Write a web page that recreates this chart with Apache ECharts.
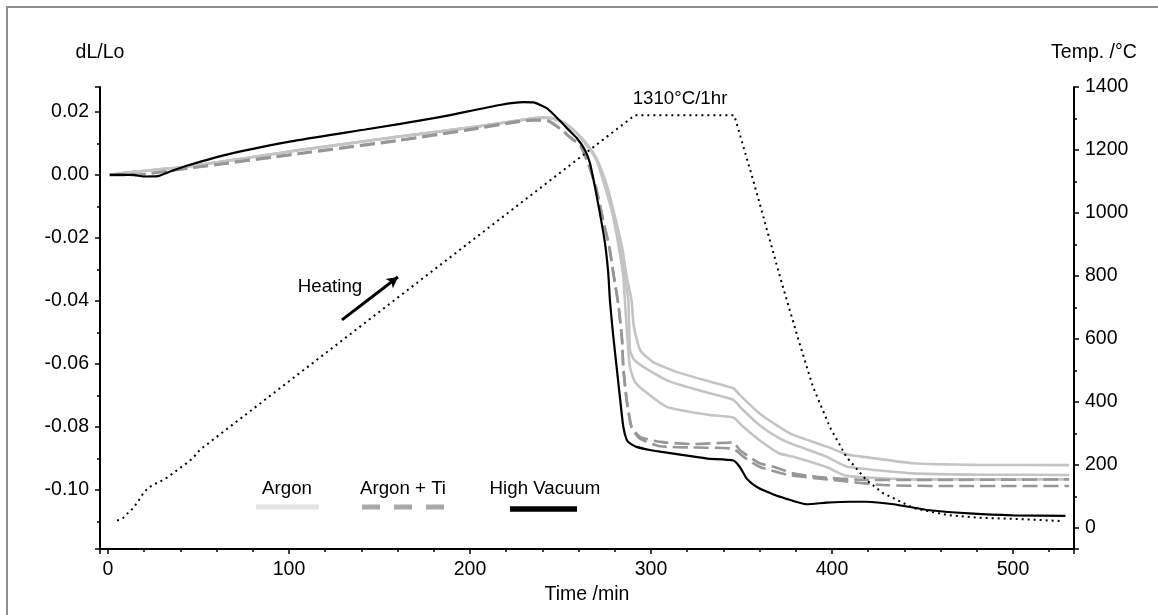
<!DOCTYPE html>
<html>
<head>
<meta charset="utf-8">
<script src="https://cdn.jsdelivr.net/npm/echarts@6/dist/echarts.min.js"></script>
<style>
html,body{margin:0;padding:0;background:#fff;}
#chart{width:1158px;height:615px;}
</style>
</head>
<body>
<div id="chart"></div>
<script>
// ---------------- data ----------------
// High Vacuum  (time /min, dL/Lo)
const hvTime = [1, 14, 19.5, 27.6, 34, 43.5, 69, 106, 143, 180, 216.6, 229.5, 235, 242.4, 249.7, 255, 259, 263.5, 266.3, 269, 271.8, 274.6, 276.4, 277.3, 279, 281, 283, 284.7, 286.6, 288.4, 292, 299.4, 305, 318, 331, 345.5, 349, 352.8, 356, 360, 364, 369.5, 375, 380, 386, 397, 410, 419, 434, 454, 478, 500, 529];
const hvVal  = [0, 0, -0.0005, -0.0004, 0.001, 0.0029, 0.0069, 0.0111, 0.0145, 0.018, 0.0222, 0.0231, 0.023, 0.0212, 0.0172, 0.014, 0.0117, 0.0079, 0.0037, -0.0037, -0.0122, -0.0217, -0.0312, -0.0397, -0.0503, -0.0609, -0.0714, -0.0799, -0.0841, -0.0852, -0.0863, -0.0873, -0.0878, -0.0889, -0.09, -0.0906, -0.0926, -0.0963, -0.098, -0.0995, -0.1005, -0.1018, -0.1028, -0.1037, -0.1045, -0.104, -0.1037, -0.1037, -0.1045, -0.1064, -0.1075, -0.108, -0.1082];

// Argon, three runs
const arATime = [1, 14, 43.5, 106, 161, 200, 235, 242, 248, 254, 260, 265, 270, 276, 280, 284, 286.5, 289.3, 290.5, 294, 301, 314, 332.6, 345.5, 349, 360, 371, 378.6, 397, 408, 415.5, 445, 480, 531];
const arAVal  = [0, 0.001, 0.0026, 0.0079, 0.0122, 0.015, 0.018, 0.0182, 0.0176, 0.0158, 0.0128, 0.0095, 0.0052, -0.004, -0.013, -0.0228, -0.032, -0.04, -0.048, -0.0556, -0.0593, -0.0625, -0.0656, -0.0677, -0.0698, -0.0757, -0.08, -0.0825, -0.0862, -0.0886, -0.0893, -0.0915, -0.092, -0.0921];
const arBTime = [1, 14, 43.5, 106, 161, 200, 235, 242, 248, 254, 260, 265, 270, 275.5, 279.5, 283, 285.5, 287.5, 288.4, 290.5, 295.8, 310.5, 332.6, 345.5, 350, 360, 371, 378.6, 397, 408, 445, 480, 531];
const arBVal  = [0, 0.001, 0.0026, 0.0079, 0.0122, 0.015, 0.018, 0.0182, 0.0176, 0.0157, 0.0127, 0.0093, 0.0048, -0.004, -0.013, -0.0228, -0.032, -0.04, -0.0556, -0.0585, -0.0609, -0.0656, -0.0693, -0.0714, -0.0741, -0.0794, -0.0836, -0.0855, -0.0894, -0.0925, -0.0947, -0.0951, -0.0952];
const arCTime = [1, 14, 43.5, 106, 161, 200, 235, 242, 248, 254, 260, 265, 270, 275, 279, 282.2, 284.7, 285.6, 287, 288.4, 291, 295.8, 308.7, 332.6, 345.5, 351, 360, 371, 378.6, 397, 408, 445, 531];
const arCVal  = [0, 0.001, 0.0026, 0.0079, 0.0122, 0.015, 0.018, 0.0181, 0.0175, 0.0155, 0.0125, 0.009, 0.0045, -0.0045, -0.013, -0.0228, -0.0323, -0.04, -0.052, -0.061, -0.0655, -0.0683, -0.0736, -0.0762, -0.077, -0.0799, -0.0842, -0.0884, -0.0894, -0.0927, -0.0955, -0.0966, -0.0966];

// Argon + Ti, two runs
const tiATime = [1, 14, 43.5, 106, 161, 198, 235, 243, 250, 256, 261, 266, 270, 273.6, 277, 279.5, 282, 284, 284.7, 286.6, 289.3, 293.9, 305, 323, 345.5, 349, 360, 367.6, 378.6, 391.5, 419, 445, 531];
const tiAVal  = [0, 0, 0.0021, 0.0069, 0.0111, 0.0143, 0.0175, 0.0173, 0.0147, 0.0117, 0.0095, 0.0026, -0.0048, -0.0143, -0.0228, -0.032, -0.041, -0.052, -0.0609, -0.0714, -0.0799, -0.0831, -0.0847, -0.0854, -0.0849, -0.0873, -0.0915, -0.0926, -0.0947, -0.0958, -0.0968, -0.0968, -0.0966];
const tiBTime = [1, 14, 43.5, 106, 161, 198, 235, 243, 250, 256, 261, 266, 270, 273.6, 277, 279.5, 282, 284, 284.7, 286.6, 289.3, 293.9, 305, 323, 345.5, 351, 360, 375, 400.7, 428, 460, 531];
const tiBVal  = [0, 0, 0.002, 0.0067, 0.0109, 0.0141, 0.0173, 0.0171, 0.0145, 0.0115, 0.0093, 0.0024, -0.005, -0.0146, -0.0232, -0.0325, -0.0415, -0.0525, -0.0612, -0.0718, -0.0803, -0.0837, -0.0861, -0.0865, -0.0869, -0.0894, -0.0926, -0.0951, -0.0968, -0.0984, -0.0987, -0.0987];

// Temperature programme (time /min, °C)
const tempTime = [5, 8.3, 11, 13.8, 16.6, 19.3, 22, 26, 28.7, 32.6, 36, 39.8, 43.6, 47, 50.8, 291, 346, 356.4, 371.3, 375, 382, 389.5, 399, 408, 419, 428, 445, 463.5, 482, 500, 526];
const tempVal  = [23, 31, 47, 62, 84, 108, 126, 140, 147, 160, 174, 190, 206, 222, 248, 1310, 1310, 1105, 797, 724, 587, 448, 318, 225, 152, 111, 63, 41, 32, 29, 22];

// axes
const xRange = [-4.4, 533.7];
const leftRange = [-0.1187, 0.0279];
const rightRange = [-67, 1400];

// annotation
const arrowFrom = [129.3, -0.046];
const arrowTo = [160.2, -0.0324];
const legendNames = ['Argon', 'Argon + Ti', 'High Vacuum'];

// -------------------------------------------------------------------------
const FONT = "'Liberation Sans', Arial, Helvetica, sans-serif";
function zip(t, v) { return t.map((x, i) => [x, v[i]]); }

const chart = echarts.init(document.getElementById('chart'), null, { renderer: 'canvas' });

const argonStyle = { color: '#c4c4c4', width: 2.6 };
const tiStyle = { color: '#979797', width: 2.6, type: [15, 6] };

function lineSeries(name, data, lineStyle, yIdx, z, smooth) {
  return {
    name: name, type: 'line', yAxisIndex: yIdx || 0, data: data,
    showSymbol: false, symbol: 'none', smooth: smooth === undefined ? 0.18 : smooth,
    lineStyle: lineStyle, z: z, silent: true
  };
}

const axisCommon = {
  axisLine: { show: true, onZero: false, lineStyle: { color: '#000', width: 2 } },
  axisTick: { show: true, length: 5, lineStyle: { color: '#000', width: 1.5 } },
  minorTick: { show: true, length: 3, lineStyle: { color: '#000', width: 1.5 } },
  splitLine: { show: false },
  minorSplitLine: { show: false }
};

const option = {
  animation: false,
  backgroundColor: '#fff',
  textStyle: { fontFamily: FONT },
  grid: { left: 100, right: 84, top: 87, bottom: 66 },
  xAxis: Object.assign({}, axisCommon, {
    type: 'value', min: xRange[0], max: xRange[1], splitNumber: 5,
    minorTick: Object.assign({}, axisCommon.minorTick, { splitNumber: 5 }),
    axisLabel: { showMinLabel: false, showMaxLabel: false, margin: 11, fontSize: 19.5, color: '#000', fontFamily: FONT,
      formatter: v => String(v) },
    name: 'Time /min', nameLocation: 'middle', nameGap: 33,
    nameTextStyle: { fontSize: 19.5, color: '#000', fontFamily: FONT }
  }),
  yAxis: [
    Object.assign({}, axisCommon, {
      type: 'value', position: 'left', min: leftRange[0], max: leftRange[1], splitNumber: 7,
      minorTick: Object.assign({}, axisCommon.minorTick, { splitNumber: 2 }),
      axisLabel: { showMinLabel: false, showMaxLabel: false, margin: 11, fontSize: 19.5, color: '#000', fontFamily: FONT,
        formatter: v => v.toFixed(2) },
      name: 'dL/Lo', nameLocation: 'end', nameGap: 24,
      nameTextStyle: { fontSize: 19.5, color: '#000', fontFamily: FONT, align: 'center' }
    }),
    Object.assign({}, axisCommon, {
      type: 'value', position: 'right', min: rightRange[0], max: rightRange[1], splitNumber: 7,
      minorTick: Object.assign({}, axisCommon.minorTick, { splitNumber: 2 }),
      axisLabel: { showMinLabel: false, margin: 11, fontSize: 19.5, color: '#000', fontFamily: FONT,
        formatter: v => String(v) },
      name: 'Temp. /°C', nameLocation: 'end', nameGap: 24,
      nameTextStyle: { fontSize: 19.5, color: '#000', fontFamily: FONT, align: 'center', padding: [0, 0, 0, 40] }
    })
  ],
  series: [
    lineSeries('Argon', zip(arATime, arAVal), argonStyle, 0, 2),
    lineSeries('Argon', zip(arBTime, arBVal), argonStyle, 0, 2),
    lineSeries('Argon', zip(arCTime, arCVal), argonStyle, 0, 2),
    lineSeries('Argon + Ti', zip(tiATime, tiAVal), tiStyle, 0, 3),
    lineSeries('Argon + Ti', zip(tiBTime, tiBVal), tiStyle, 0, 3),
    Object.assign(lineSeries('High Vacuum', zip(hvTime, hvVal), { color: '#000', width: 2.2 }, 0, 4), {
      markLine: {
        silent: true, symbol: ['none', 'arrow'], symbolSize: [9, 11],
        lineStyle: { color: '#000', width: 3, type: 'solid' },
        label: { show: false }, emphasis: { disabled: true },
        data: [[{ coord: arrowFrom }, { coord: arrowTo }]]
      }
    }),
    lineSeries('Temperature', zip(tempTime, tempVal), { color: '#000', width: 2, type: [2, 4], cap: 'butt' }, 1, 5, false)
  ],
  graphic: [
    { type: 'rect', silent: true, z: -10, shape: { x: 7, y: 7, width: 1400, height: 900 },
      style: { fill: 'none', stroke: '#8f8f8f', lineWidth: 2 } },
    { type: 'text', silent: true, style: { text: '1310°C/1hr', x: 680, y: 99, align: 'center', verticalAlign: 'middle', font: '18.7px ' + FONT, fill: '#000' } },
    { type: 'text', silent: true, style: { text: 'Heating', x: 330, y: 287, align: 'center', verticalAlign: 'middle', font: '18.7px ' + FONT, fill: '#000' } },
    { type: 'text', silent: true, style: { text: legendNames[0], x: 287, y: 489, align: 'center', verticalAlign: 'middle', font: '18.7px ' + FONT, fill: '#000' } },
    { type: 'line', silent: true, shape: { x1: 256, y1: 507, x2: 319, y2: 507 }, style: { stroke: '#e3e3e3', lineWidth: 5 } },
    { type: 'text', silent: true, style: { text: legendNames[1], x: 403, y: 489, align: 'center', verticalAlign: 'middle', font: '18.7px ' + FONT, fill: '#000' } },
    { type: 'line', silent: true, shape: { x1: 362, y1: 507, x2: 445, y2: 507 }, style: { stroke: '#a8a8a8', lineWidth: 5, lineDash: [18, 14] } },
    { type: 'text', silent: true, style: { text: legendNames[2], x: 545, y: 489, align: 'center', verticalAlign: 'middle', font: '18.7px ' + FONT, fill: '#000' } },
    { type: 'line', silent: true, shape: { x1: 510, y1: 509, x2: 577, y2: 509 }, style: { stroke: '#000', lineWidth: 5.5 } }
  ]
};
chart.setOption(option);
</script>
</body>
</html>
